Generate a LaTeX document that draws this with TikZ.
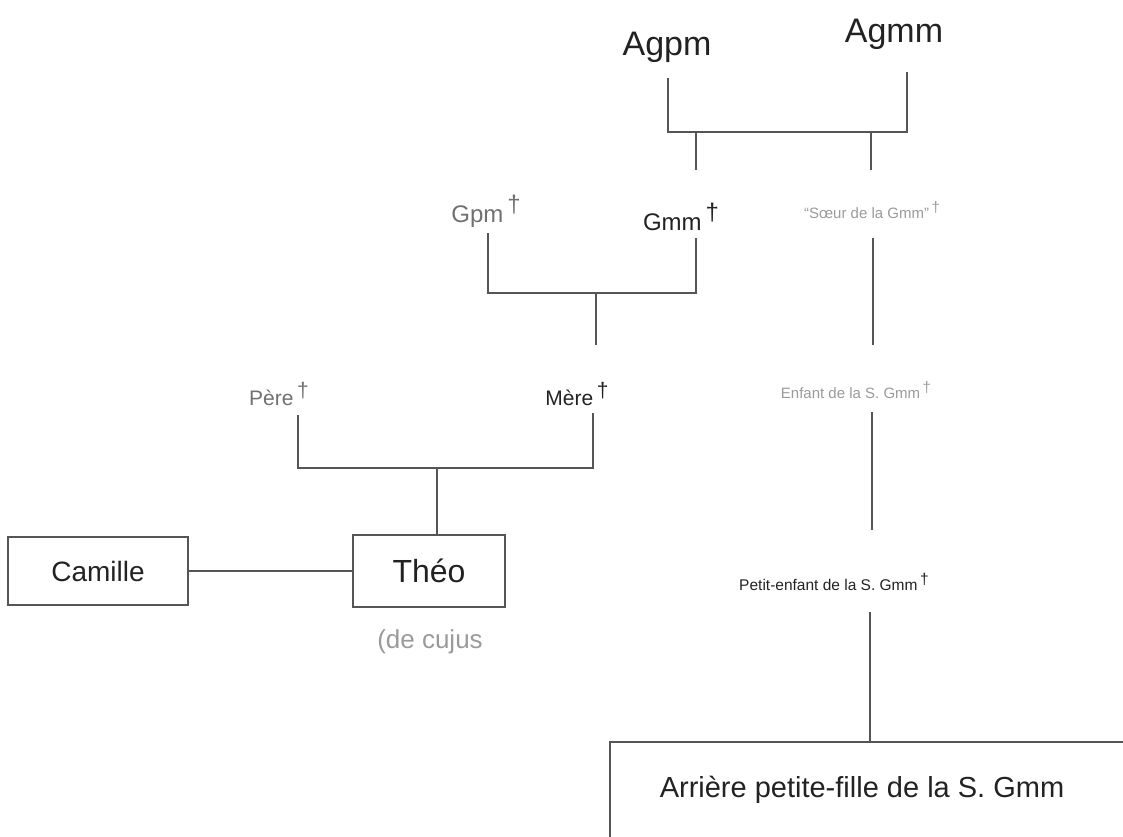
\documentclass[tikz,border=0pt]{standalone}
\usepackage{fontspec}
\setmainfont{Liberation Sans}
\definecolor{ink}{HTML}{222222}
\definecolor{mid}{HTML}{707070}
\definecolor{pale}{HTML}{9A9A9A}
\definecolor{stroke}{HTML}{555555}
\newcommand{\mydg}{\,\raisebox{0.38em}{†}}
\tikzset{
  lbl/.style={anchor=base, inner sep=0pt, outer sep=0pt},
  inkt/.style={lbl, text=ink},
  midt/.style={lbl, text=mid},
  palet/.style={lbl, text=pale},
  boxnode/.style={draw=stroke, line width=1.2pt, text=ink, inner sep=0pt, outer sep=0pt},
  ln/.style={draw=stroke, line width=1.2pt}
}
\begin{document}
\begin{tikzpicture}[x=1pt,y=-1pt]
\path[use as bounding box] (0,0) rectangle (1123,836);
\clip (0,0) rectangle (1123,836);
% text nodes
\node[inkt, font=\fontsize{34}{36}\selectfont] (agpm) at (667,55) {Agpm};
\node[inkt, font=\fontsize{34}{36}\selectfont] (agmm) at (894,42) {Agmm};
\node[midt, font=\fontsize{24}{26}\selectfont] (gpm) at (486,222) {Gpm\mydg};
\node[inkt, font=\fontsize{24}{26}\selectfont] (gmm) at (681,230) {Gmm\mydg};
\node[palet, font=\fontsize{15}{17}\selectfont] (soeur) at (872,218) {“Sœur de la Gmm”\mydg};
\node[midt, font=\fontsize{21}{23}\selectfont] (pere) at (279,405) {Père\mydg};
\node[inkt, font=\fontsize{21}{23}\selectfont] (mere) at (577,405) {Mère\mydg};
\node[palet, font=\fontsize{15}{17}\selectfont] (enfant) at (856,398) {Enfant de la S. Gmm\mydg};
\node[inkt, font=\fontsize{15.5}{17}\selectfont] (petit) at (834,590) {Petit-enfant de la S. Gmm\mydg};
\node[boxnode, minimum width=180pt, minimum height=68pt, font=\fontsize{28}{30}\selectfont] (camille) at (98,571) {Camille};
\node[boxnode, minimum width=152pt, minimum height=72pt, font=\fontsize{32}{34}\selectfont] (theo) at (429,571) {Théo};
\node[palet, font=\fontsize{26}{28}\selectfont] (cujus) at (430,648) {(de cujus};
\node[boxnode, minimum width=516pt, minimum height=96pt, font=\fontsize{29}{31}\selectfont] (arriere) at (868,790) {\hspace*{-12pt}Arrière petite-fille de la S. Gmm};
% ports
\coordinate (agpmP) at ([xshift=1pt,yshift=-23pt]agpm.base);
\coordinate (agmmP) at ([xshift=13pt,yshift=-30pt]agmm.base);
\coordinate (gmmT) at ([xshift=15pt,yshift=60pt]gmm.base);
\coordinate (gmmB) at ([xshift=15pt,yshift=-8pt]gmm.base);
\coordinate (soeurT) at ([xshift=-1pt,yshift=48pt]soeur.base);
\coordinate (soeurB) at ([xshift=1pt,yshift=-20pt]soeur.base);
\coordinate (gpmP) at ([xshift=2pt,yshift=-11pt]gpm.base);
\coordinate (pereP) at ([xshift=19pt,yshift=-10pt]pere.base);
\coordinate (mereT) at ([xshift=19pt,yshift=60pt]mere.base);
\coordinate (mereB) at ([xshift=16pt,yshift=-8pt]mere.base);
\coordinate (enfantT) at ([xshift=17pt,yshift=53pt]enfant.base);
\coordinate (enfantB) at ([xshift=16pt,yshift=-14pt]enfant.base);
\coordinate (petitT) at ([xshift=38pt,yshift=60pt]petit.base);
\coordinate (petitB) at ([xshift=36pt,yshift=-22pt]petit.base);
\coordinate (theoT) at ([xshift=8pt]theo.north);
\coordinate (bar1) at (780,132);
\coordinate (bar2) at (590,293);
\coordinate (bar3) at (440,468);
% connectors
\draw[ln] (agpmP) |- (bar1) -| (agmmP);
\draw[ln] (bar1 -| gmmT) -- (gmmT);
\draw[ln] (bar1 -| soeurT) -- (soeurT);
\draw[ln] (gpmP) |- (bar2) -| (gmmB);
\draw[ln] (bar2 -| mereT) -- (mereT);
\draw[ln] (soeurB) -- (enfantT);
\draw[ln] (pereP) |- (bar3) -| (mereB);
\draw[ln] (bar3 -| theoT) -- (theoT);
\draw[ln] (enfantB) -- (petitT);
\draw[ln] (petitB) -- (petitB |- arriere.north);
\draw[ln] (camille.east) -- (theo.west);
\end{tikzpicture}
\end{document}
